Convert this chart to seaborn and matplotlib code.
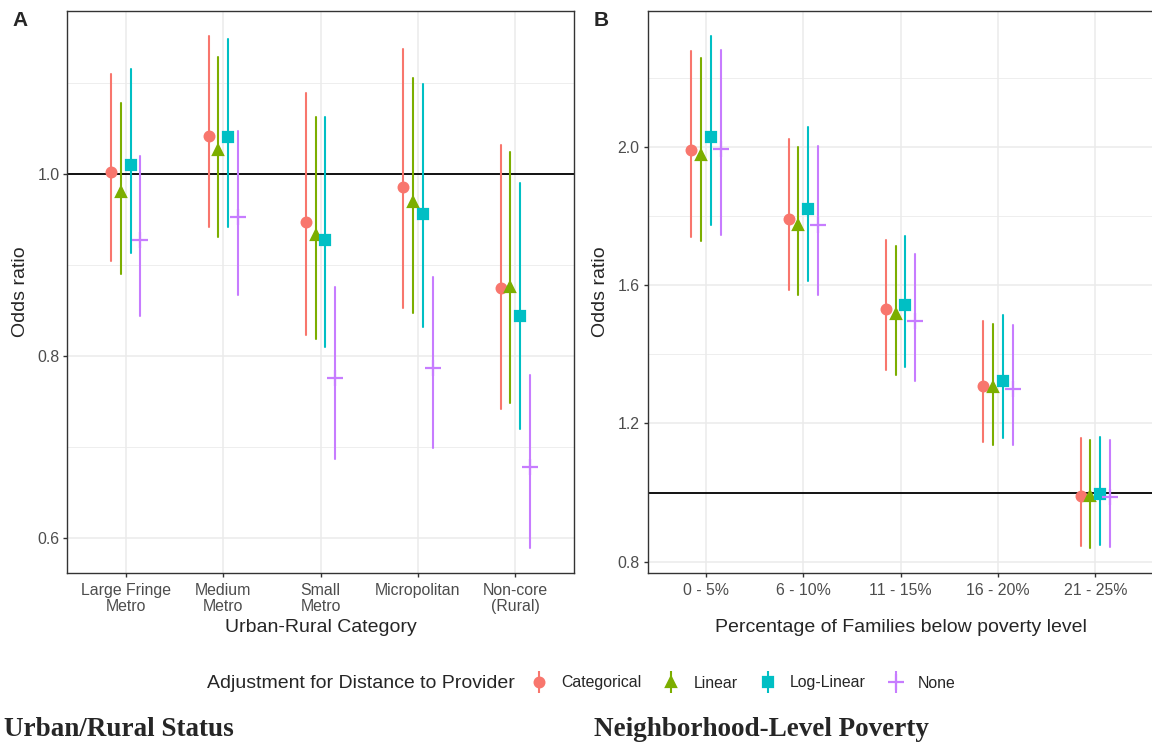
import numpy as np
import pandas as pd
import matplotlib
matplotlib.use("Agg")
import matplotlib.pyplot as plt
from matplotlib.lines import Line2D
from matplotlib.ticker import MultipleLocator, FormatStrFormatter
import seaborn as sns

# -------------------------------
# Data (odds ratio, lower CI, upper CI), order: Categorical, Linear, Log-Linear, None
# -------------------------------
adjustments = ["Categorical", "Linear", "Log-Linear", "None"]

urban_cats = ["Large Fringe\nMetro", "Medium\nMetro", "Small\nMetro", "Micropolitan", "Non-core\n(Rural)"]
urban_est = {
    "Categorical": [1.002, 1.042, 0.947, 0.985, 0.875],
    "Linear":      [0.980, 1.026, 0.933, 0.969, 0.876],
    "Log-Linear":  [1.010, 1.040, 0.927, 0.956, 0.844],
    "None":        [0.927, 0.953, 0.775, 0.787, 0.678],
}
urban_lo = {
    "Categorical": [0.904, 0.942, 0.823, 0.852, 0.742],
    "Linear":      [0.890, 0.931, 0.818, 0.847, 0.748],
    "Log-Linear":  [0.913, 0.941, 0.810, 0.832, 0.719],
    "None":        [0.844, 0.867, 0.686, 0.699, 0.589],
}
urban_hi = {
    "Categorical": [1.110, 1.151, 1.089, 1.137, 1.032],
    "Linear":      [1.078, 1.128, 1.062, 1.105, 1.024],
    "Log-Linear":  [1.115, 1.148, 1.062, 1.099, 0.990],
    "None":        [1.020, 1.047, 0.876, 0.887, 0.779],
}

poverty_cats = ["0 - 5%", "6 - 10%", "11 - 15%", "16 - 20%", "21 - 25%"]
poverty_est = {
    "Categorical": [1.991, 1.792, 1.531, 1.309, 0.989],
    "Linear":      [1.977, 1.774, 1.517, 1.306, 0.989],
    "Log-Linear":  [2.029, 1.821, 1.543, 1.324, 0.995],
    "None":        [1.994, 1.774, 1.497, 1.300, 0.988],
}
poverty_lo = {
    "Categorical": [1.740, 1.586, 1.355, 1.145, 0.844],
    "Linear":      [1.728, 1.572, 1.341, 1.138, 0.840],
    "Log-Linear":  [1.774, 1.613, 1.364, 1.158, 0.849],
    "None":        [1.746, 1.572, 1.323, 1.136, 0.841],
}
poverty_hi = {
    "Categorical": [2.278, 2.023, 1.731, 1.497, 1.158],
    "Linear":      [2.257, 2.000, 1.714, 1.488, 1.153],
    "Log-Linear":  [2.321, 2.058, 1.743, 1.514, 1.162],
    "None":        [2.281, 2.003, 1.691, 1.485, 1.153],
}

palette = ["#F8766D", "#7CAE00", "#00BFC4", "#C77CFF"]
markers = ["o", "^", "s", "+"]


def long_frame(cats, est, lo, hi):
    # three rows per group: median = estimate, min/max = CI bounds
    rows = []
    for adj in adjustments:
        for i, c in enumerate(cats):
            for v in (lo[adj][i], est[adj][i], hi[adj][i]):
                rows.append({"cat": c, "adj": adj, "value": v})
    return pd.DataFrame(rows)


df_a = long_frame(urban_cats, urban_est, urban_lo, urban_hi)
df_b = long_frame(poverty_cats, poverty_est, poverty_lo, poverty_hi)

# -------------------------------
# Figure
# -------------------------------
sns.set_style("white")
plt.rcParams["font.family"] = ["Liberation Sans", "DejaVu Sans"]

fig = plt.figure(figsize=(11.52, 7.47), dpi=100)
W, H = 1152, 747
ax_a = fig.add_axes([67.3 / W, 1 - 572.7 / H, (573.8 - 67.3) / W, (572.7 - 11) / H])
ax_b = fig.add_axes([647.5 / W, 1 - 572.7 / H, (1153.7 - 647.5) / W, (572.7 - 11) / H])


def draw_panel(ax, df, cats, ylim, major, xlabel):
    ax.axhline(1.0, color="black", lw=1.3, zorder=1)
    sns.pointplot(data=df, x="cat", y="value", hue="adj", order=cats,
                  hue_order=adjustments, palette=palette, markers=markers,
                  estimator="median", errorbar=("pi", 100), dodge=0.3,
                  linestyle="none", markersize=7, markeredgewidth=1.6,
                  err_kws={"linewidth": 1.5}, legend=False, ax=ax, zorder=3)
    # bigger "+" like ggplot shape 3
    for ln in ax.lines:
        if ln.get_marker() == "+":
            ln.set_markersize(12)
            ln.set_markeredgewidth(1.6)
    ax.set_xlim(-0.6, len(cats) - 0.4)
    ax.set_ylim(*ylim)
    ax.yaxis.set_major_locator(MultipleLocator(major))
    ax.yaxis.set_minor_locator(MultipleLocator(major / 2))
    ax.grid(True, which="major", color="#EBEBEB", lw=1.1, zorder=0)
    ax.grid(True, which="minor", axis="y", color="#EBEBEB", lw=0.6, zorder=0)
    ax.set_axisbelow(True)
    for s in ax.spines.values():
        s.set_color("#333333")
        s.set_linewidth(1.0)
        s.set_visible(True)
    ax.tick_params(axis="both", which="major", length=3.2, width=1, color="#333333",
                   labelcolor="#4D4D4D", labelsize=11.4, direction="out",
                   bottom=True, left=True, pad=2.5)
    ax.tick_params(axis="x", which="major", pad=4.5)
    ax.set_xticks(range(len(cats)))
    ax.set_xticklabels(cats, linespacing=1.05)
    ax.tick_params(axis="y", which="minor", length=0)
    ax.yaxis.set_major_formatter(FormatStrFormatter("%.1f"))
    ax.set_ylabel("Odds ratio", fontsize=14)
    ax.set_xlabel(xlabel, fontsize=14)
    ax.xaxis.label.set_va("center")
    ax.yaxis.label.set_va("center")


draw_panel(ax_a, df_a, urban_cats, (0.5615, 1.179), 0.2, "Urban-Rural Category")
draw_panel(ax_b, df_b, poverty_cats, (0.768, 2.393), 0.4,
           "Percentage of Families below poverty level")
ax_a.xaxis.set_label_coords(0.5, -(628 - 572.7) / 561.7)
ax_b.xaxis.set_label_coords(0.5, -(628 - 572.7) / 561.7)
ax_a.yaxis.set_label_coords(-(67.3 - 20.5) / 506.5, 0.5)
ax_b.yaxis.set_label_coords(-(647.5 - 600.5) / 506.2, 0.5)

fig.text(12 / W, 1 - 21 / H, "A", fontsize=15, fontweight="bold", va="center")
fig.text(594 / W, 1 - 21 / H, "B", fontsize=15, fontweight="bold", va="center")

# -------------------------------
# Legend
# -------------------------------
handles = []
for col, mk in zip(palette, markers):
    bar = Line2D([], [], marker="|", markersize=16, markeredgewidth=1.5,
                 color=col, linestyle="none")
    pt = Line2D([], [], marker=mk, markersize=12 if mk == "+" else 7,
                markeredgewidth=1.6, color=col, linestyle="none")
    handles.append((bar, pt))

fig.text(515 / W, 1 - 683 / H, "Adjustment for Distance to Provider",
         fontsize=14, ha="right", va="center")
fig.legend(handles, adjustments, loc="center left",
           bbox_to_anchor=(515 / W, 1 - 683 / H), ncol=4, frameon=False,
           handlelength=1.2, handletextpad=0.8, columnspacing=1.3,
           fontsize=11.4)

fig.text(4 / W, 1 - 729 / H, "Urban/Rural Status", fontsize=19.5,
         fontweight="bold", family="Liberation Serif", va="center")
fig.text(594 / W, 1 - 729 / H, "Neighborhood-Level Poverty", fontsize=19.5,
         fontweight="bold", family="Liberation Serif", va="center")

fig.savefig("out.png", dpi=100)
